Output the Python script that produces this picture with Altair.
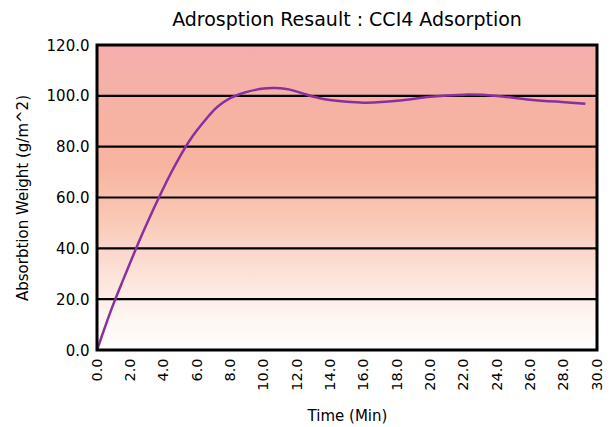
import altair as alt
import pandas as pd

# Data
time_min = [0, 0.5, 1, 1.5, 2, 2.5, 3, 4, 4.5, 5, 5.5, 6, 6.5, 7, 7.5, 8, 8.5, 9, 9.5, 10, 10.5, 11, 11.5, 12, 12.5, 13, 13.5, 14, 15, 16, 18, 20, 22, 24, 26, 28, 29.3]
weight = [0, 9.5, 18.5, 26.5, 34.5, 42.5, 50, 64, 70.5, 76.5, 82, 86.5, 90.5, 94.5, 97.2, 99.2, 100.6, 101.6, 102.4, 102.9, 103.1, 103.1, 102.6, 101.7, 100.6, 99.6, 98.8, 98.3, 97.6, 97.1, 97.9, 99.8, 100.7, 100.2, 98.3, 97.6, 96.9]

x_ticks = [0, 2, 4, 6, 8, 10, 12, 14, 16, 18, 20, 22, 24, 26, 28, 30]
y_ticks = [0, 20, 40, 60, 80, 100, 120]
grid_values = [20, 40, 60, 80, 100]

df = pd.DataFrame({"t": time_min, "w": weight})
bg = pd.DataFrame({"x0": [0], "x1": [30], "y0": [0], "y1": [120]})
grid_df = pd.DataFrame({"g": grid_values})

FONT = "DejaVu Sans"
W, H = 500, 305

xscale = alt.Scale(domain=[0, 30], nice=False, zero=False)
yscale = alt.Scale(domain=[0, 120], nice=False)

xaxis = alt.Axis(values=x_ticks, format=".1f", labelAngle=270,
                 title="Time (Min)", grid=False, ticks=False, domain=False,
                 labelFont=FONT, labelFontSize=14.5, labelColor="black",
                 labelPadding=8, titleFont=FONT, titleFontSize=15,
                 titleFontWeight="normal", titleColor="black", titlePadding=18,
                 labelFlush=False, labelOverlap=False, labelBound=False)
yaxis = alt.Axis(values=y_ticks, format=".1f", title="Absorbtion Weight (g/m^2)",
                 grid=False, ticks=False, domain=False,
                 labelFont=FONT, labelFontSize=15, labelColor="black",
                 labelPadding=8, titleFont=FONT, titleFontSize=15,
                 titleFontWeight="normal", titleColor="black", titlePadding=16,
                 labelFlush=False, labelOverlap=False)

gradient = alt.Gradient(
    gradient="linear",
    x1=0, x2=0, y1=0, y2=1,
    stops=[
        alt.GradientStop(color="#f5aeae", offset=0.0),
        alt.GradientStop(color="#f6b2a4", offset=0.2),
        alt.GradientStop(color="#f7b5a0", offset=0.4),
        alt.GradientStop(color="#f9c6b2", offset=0.55),
        alt.GradientStop(color="#fbd8cb", offset=0.68),
        alt.GradientStop(color="#fde9e1", offset=0.8),
        alt.GradientStop(color="#fef6f2", offset=0.9),
        alt.GradientStop(color="#fffefd", offset=1.0),
    ],
)

background = alt.Chart(bg).mark_rect(color=gradient, strokeWidth=0).encode(
    x=alt.X("x0:Q", scale=xscale, axis=xaxis),
    x2="x1:Q",
    y=alt.Y("y0:Q", scale=yscale, axis=yaxis),
    y2="y1:Q",
)

grid = alt.Chart(grid_df).mark_rule(color="black", strokeWidth=2.2).encode(
    y=alt.Y("g:Q", scale=yscale, axis=yaxis),
)

line = alt.Chart(df).mark_line(color="#8a2fa0", strokeWidth=2.5, interpolate="basis").encode(
    x=alt.X("t:Q", scale=xscale, axis=xaxis),
    y=alt.Y("w:Q", scale=yscale, axis=yaxis),
)

border = alt.Chart(bg).mark_rect(filled=False, stroke="black", strokeWidth=3).encode(
    x=alt.X("x0:Q", scale=xscale, axis=xaxis),
    x2="x1:Q",
    y=alt.Y("y0:Q", scale=yscale, axis=yaxis),
    y2="y1:Q",
)

chart = alt.layer(background, grid, line, border).properties(
    width=W,
    height=H,
    title=alt.TitleParams("Adrosption Resault : CCI4 Adsorption", font=FONT, fontSize=19,
                          fontWeight="normal", color="black", anchor="middle", offset=8),
    autosize=alt.AutoSizeParams(type="none"),
    padding={"left": 89, "top": 37, "right": 9, "bottom": 76},
).configure_view(stroke=None).configure_axis(labelOverlap=False).configure(background="white")

chart.save("out.html", embed_options={"renderer": "svg", "actions": False})
